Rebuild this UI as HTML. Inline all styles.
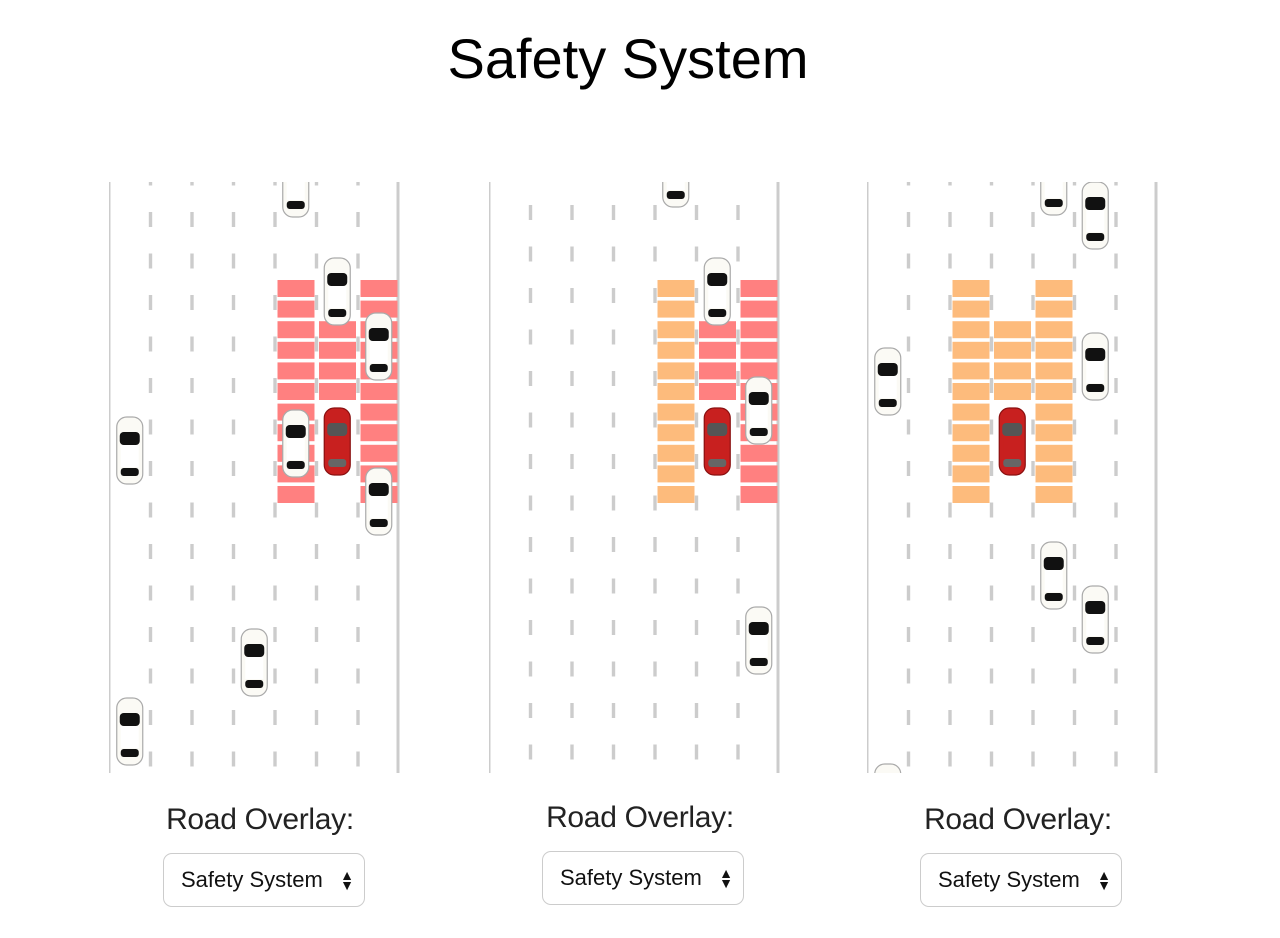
<!DOCTYPE html>
<html><head><meta charset="utf-8"><style>
body{margin:0;width:1280px;height:938px;background:#fff;overflow:hidden;position:relative;font-family:"Liberation Sans",sans-serif}
.title{position:absolute;left:0;width:1256px;top:26px;text-align:center;font-size:56px;color:#000}
.lbl{position:absolute;font-size:30px;color:#222;width:260px;text-align:center;letter-spacing:-0.3px}
.sel{position:absolute;width:202px;height:54px;border:1.5px solid #ccc;border-radius:9px;box-sizing:border-box;font-size:22px;color:#111;line-height:52px;padding-left:17px}
.sel span{position:absolute;right:10px;top:0;font-size:14px;line-height:10px;padding-top:16px}
</style></head><body>
<div class="title">Safety System</div>
<svg id="s" width="1280" height="938" style="position:absolute;left:0;top:0"></svg>
<div class="lbl" style="left:130px;top:803px">Road Overlay:</div>
<div class="lbl" style="left:510px;top:801px">Road Overlay:</div>
<div class="lbl" style="left:888px;top:803px">Road Overlay:</div>
<div class="sel" style="left:163px;top:853px">Safety System<span>▲<br>▼</span></div>
<div class="sel" style="left:542px;top:851px">Safety System<span>▲<br>▼</span></div>
<div class="sel" style="left:920px;top:853px">Safety System<span>▲<br>▼</span></div>
<script>
var s=document.getElementById('s'),h='';
var W=41.5,T=182,B=773;
function panel(L,phase,cols,cars,red){
 h+='<defs><clipPath id="c'+L+'"><rect x="'+L+'" y="'+T+'" width="292" height="'+(B-T)+'"/></clipPath></defs><g clip-path="url(#c'+L+')">';
 h+='<rect x="'+(L-1.5)+'" y="'+T+'" width="3" height="'+(B-T)+'" fill="#ccc"/><rect x="'+(L+289-1.5)+'" y="'+T+'" width="3" height="'+(B-T)+'" fill="#ccc"/>';
 for(var i=1;i<7;i++){var x=L+i*W;for(var y=phase-41.5*2;y<B;y+=41.5)h+='<rect x="'+(x-1.7)+'" y="'+y+'" width="3.4" height="15" fill="#ccc"/>';}
 cols.forEach(function(c){var x=L+c[0]*W+2.5;for(var r=c[1];r<=c[2];r++)h+='<rect x="'+x+'" y="'+(280+r*20.6)+'" width="37" height="17" fill="'+c[3]+'"/>';});
 cars.forEach(function(c){car(L+c[0]*W+W/2,c[1],false)});
 car(L+red*W+W/2,408,true);
 h+='</g>';
}
function car(cx,t,r){
 var x=cx-13,b=r?'#c8201f':'#fbfaf5',st=r?'#8a1010':'#aaa';
 h+='<rect x="'+x+'" y="'+t+'" width="26" height="67" rx="10" fill="'+b+'" stroke="'+st+'" stroke-width="1.2"/>';
 h+='<rect x="'+(x+3)+'" y="'+(t+15)+'" width="20" height="13" rx="4" fill="'+(r?'#555':'#111')+'"/>';
 h+='<rect x="'+(x+4)+'" y="'+(t+28)+'" width="18" height="22" fill="'+(r?'#c8201f':'#fff')+'"/>';
 h+='<rect x="'+(x+4)+'" y="'+(t+51)+'" width="18" height="8" rx="3" fill="'+(r?'#666':'#111')+'"/>';
}
var R='#ff8080',O='#fdbb7c';
panel(109,212,[[4,0,10,R],[5,2,5,R],[6,0,10,R]],[[4,150],[5,258],[6,313],[4,410],[0,417],[6,468],[3,629],[0,698]],5);
panel(489,205,[[4,0,10,O],[5,2,5,R],[6,0,10,R]],[[4,140],[5,258],[6,377],[6,607]],5);
panel(867,212,[[2,0,10,O],[3,2,5,O],[4,0,10,O]],[[4,148],[5,182],[0,348],[5,333],[4,542],[5,586],[0,764]],3);
s.innerHTML=h;
</script>
</body></html>
